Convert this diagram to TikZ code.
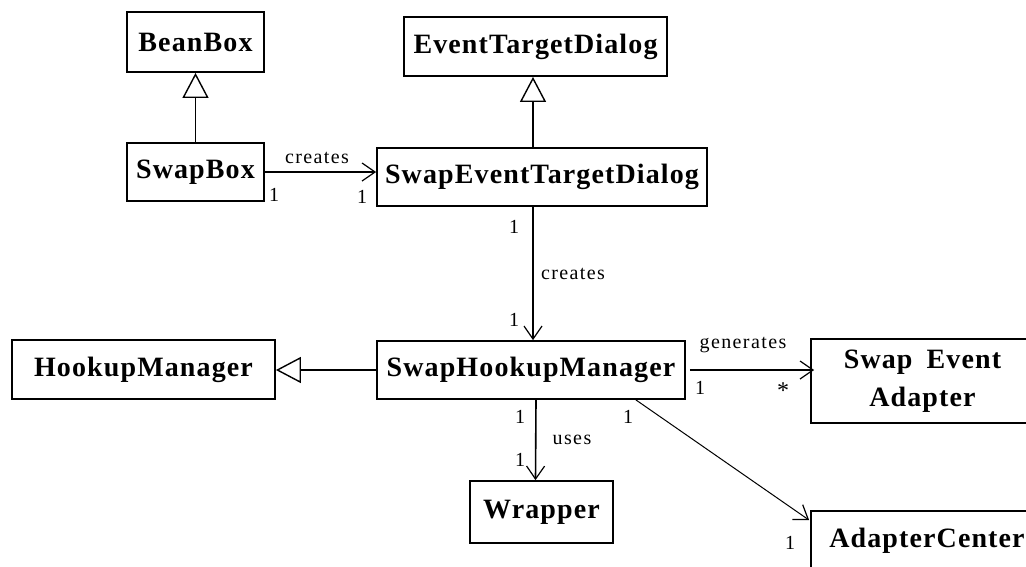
\documentclass[tikz,border=0pt]{standalone}
\usepackage{fontspec}
\setmainfont{Liberation Serif}
\newfontfamily\classfont[LetterSpace=4]{Liberation Serif}
\newfontfamily\lblfont[LetterSpace=7]{Liberation Serif}
\usetikzlibrary{arrows.meta}
\begin{document}
\begin{tikzpicture}[x=1pt,y=-1pt,
  cls/.style={draw, line width=1.8pt, inner sep=0pt, align=center,
    font={\classfont\bfseries\fontsize{28}{38}\selectfont}},
  lbl/.style={inner sep=0pt, font={\lblfont\fontsize{20}{22}\selectfont}},
  assoc/.style={line width=1.6pt,
    -{Straight Barb[length=13pt,width=18pt,line width=1.2pt]}},
  inherit/.style={line width=1.6pt,
    -{Triangle[open,length=25pt,width=26pt,line width=1.4pt,fill=white]}}]
% canvas
\clip (0,0) rectangle (1026,566);
\fill[white] (0,0) rectangle (1026,566);

% classes
\node[cls, minimum width=137pt, minimum height=60pt] (BB)   at (195.5,42)  {BeanBox};
\node[cls, minimum width=263pt, minimum height=59pt] (ETD)  at (535.5,46.5){EventTargetDialog};
\node[cls, minimum width=137pt, minimum height=58pt] (SB)   at (195.5,172) {SwapBox};
\node[cls, minimum width=330pt, minimum height=58pt] (SETD) at (542,177)   {SwapEventTargetDialog};
\node[cls, minimum width=263pt, minimum height=59pt] (HM)   at (143.5,369.5){HookupManager};
\node[cls, minimum width=308pt, minimum height=58pt] (SHM)  at (531,370)   {SwapHookupManager};
\node[cls, minimum width=223pt, minimum height=84pt] (SEA)  at (922.5,381) {Swap\hspace{6pt} Event\\Adapter};
\node[cls, minimum width=143pt, minimum height=62pt] (W)    at (541.5,512) {Wrapper};
\node[cls, minimum width=232pt, minimum height=60pt] (AC)   at (927,541)   {AdapterCenter};

% generalizations
\draw[inherit] (SB.north) -- (BB.south);
\draw[inherit] ([xshift=-9pt]SETD.north) -- ([xshift=-2.5pt]ETD.south);
\draw[inherit] (SHM.west) -- (SHM.west -| HM.east);

% associations
\draw[assoc] (SB.east) -- (SB.east -| SETD.west);
\draw[assoc] ([xshift=-9pt]SETD.south) -- ([xshift=2pt]SHM.north);
\draw[assoc] ([xshift=4pt]SHM.east) -- ([xshift=4pt]SHM.east -| SEA.west);
\draw[assoc] ([xshift=5pt]SHM.south) -- ([xshift=-6pt]W.north);
\draw[assoc, line width=1pt] ([xshift=-50pt]SHM.south east) -- ([xshift=-1pt,yshift=-10pt]AC.north west);

% association labels and multiplicities
\node[lbl] (l1) at (317,158) {creates};
\node[lbl] (m1) at (274,195) {1};
\node[lbl] (m2) at (362,197) {1};
\node[lbl] (m3) at (514,227) {1};
\node[lbl] (l2) at (573,274) {creates};
\node[lbl] (m4) at (514,320) {1};
\node[lbl] (l3) at (743,345) {generates};
\node[lbl] (m5) at (700,388) {1};
\node[lbl, font={\lblfont\fontsize{24}{26}\selectfont}] (m6) at (783,391) {*};
\node[lbl] (m7) at (520,417) {1};
\node[lbl] (l4) at (572,440) {uses};
\node[lbl] (m8) at (520,460) {1};
\node[lbl] (m9) at (628,417) {1};
\node[lbl] (m10) at (790,543) {1};
\end{tikzpicture}
\end{document}
